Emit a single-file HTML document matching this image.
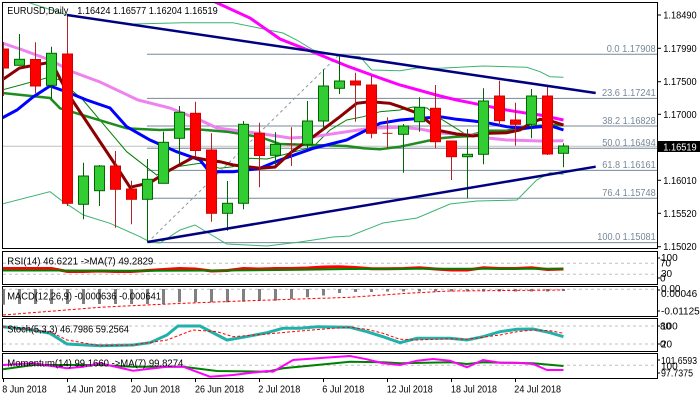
<!DOCTYPE html>
<html><head><meta charset="utf-8"><style>
html,body{margin:0;padding:0;background:#fff;}
svg{display:block;}
text{font-family:"Liberation Sans",Arial,sans-serif;font-size:10px;fill:#000;}
.fib{fill:#778899;}
</style></head><body>
<svg width="700" height="400" viewBox="0 0 700 400" xmlns="http://www.w3.org/2000/svg">
<defs>
<clipPath id="cm"><rect x="2.5" y="2.5" width="655" height="246"/></clipPath>
</defs>
<rect width="700" height="400" fill="#fff"/>

<g clip-path="url(#cm)">
<!-- bid line -->
<line x1="2" y1="146.3" x2="657" y2="146.3" stroke="#c0c0c0" stroke-width="1"/>
<!-- fib levels -->
<g stroke="#778899" stroke-width="1">
<line x1="147" y1="54.3" x2="657" y2="54.3"/>
<line x1="147" y1="98.4" x2="657" y2="98.4"/>
<line x1="147" y1="126" x2="657" y2="126"/>
<line x1="147" y1="148.3" x2="657" y2="148.3"/>
<line x1="147" y1="170.4" x2="657" y2="170.4"/>
<line x1="147" y1="198.2" x2="657" y2="198.2"/>
<line x1="147" y1="242.6" x2="657" y2="242.6"/>
</g>
<line x1="147.5" y1="242.6" x2="339.5" y2="54.3" stroke="#8899aa" stroke-width="1" stroke-dasharray="3,3"/>

<!-- bands -->
<g fill="none" stroke="#3cb371" stroke-width="1">
<polyline points="22,0 27,2 67,15 133,24 183,22.7 233,22.7 283,33 296.7,40 313.3,50 333.3,55 360,56.7 371.7,70 400,70.7 417,68 440,68.3 483.3,66 526.7,67.3 540,71.7 550,76.7 563.5,77.3"/>
<polyline points="2,204 50,191.7 60,199.3 83.3,215 110,223.3 140,236.7 150,242 160,243 180,230 195,225 226.7,244 267,246 300,242 333,237 350,236 383,223 417,218 450,204 477,201 517,200 536.7,180 550,172.7 563.5,174.3"/>
</g>
<polyline fill="none" stroke="#008000" stroke-width="1" points="2,90 50,77 60,80 83,100 126.7,151.7 156.7,175 176.7,166.7 200,163.3 220,168.3 233.3,166.7 250,158.3 267,159 290,153 313.3,146.7 330,130 346.7,120 363.3,116.7 380,111.7 400,110 413,107 427,108 440,118.3 466.7,135 490,130 506.7,130 523.3,126.7 540,125 563.5,124.3"/>
<!-- MAs -->
<polyline fill="none" stroke="#ee82ee" stroke-width="3" points="2,43 20,49 50,60 73,72 100,82 138,100 170,108 200,120 217,128 260,133.5 290,138 313,136.7 347,131.7 370,128.3 400,127.3 420,129 440,133 473,135 490,138.3 506.7,140 540,141 563.5,140.7"/>
<polyline fill="none" stroke="#ff00ff" stroke-width="3" points="205,-3 213,1 250,18 280,39 313,52 347,66 380,78 400,85 440,96 456.7,100 473.3,103.3 490,106.7 506.7,110 523.3,112.7 540,115 563.5,120"/>
<polyline fill="none" stroke="#1e8c1e" stroke-width="2.5" points="2,93 50,98 60,108.3 93.3,118.3 126.7,128.3 160,130 193.3,129 226.7,131.7 260,137 280,144 313,145 346.7,146 363.3,148.3 380,149.3 400,146.7 440,138.3 456.7,136.7 473.3,136 490,131.7 506.7,130.7 523.3,129 540,126 563.5,125"/>
<polyline fill="none" stroke="#0000ff" stroke-width="3" points="2,118 17,110 33,97 50,86 67,92 86.7,100 110,108 126.7,126.7 150,140 176.7,151.7 200,160 206.7,168.3 216.7,171.7 233.3,171.7 260,168.3 280,160 313.3,148.3 346.7,140 380,123.3 400,120 440,116.7 456.7,119.3 473.3,121 490,123.3 506.7,126.7 523.3,128.3 540,126.7 553.3,126.7 563.5,130"/>
<polyline fill="none" stroke="#8b0000" stroke-width="3" points="2,80 19.5,68 35.5,65 51.5,62 67.5,93 83.5,117 99.5,141 115.5,165 130,187.3 150,182.7 170,170 193.3,157.3 206.7,160 220,161.7 233.3,165 260,168.3 275,167 291.5,152 313.3,136.7 340,116.7 356.7,103.3 370,101.7 390,103.3 400,106.7 417,113 440,130.7 456.7,134 473.3,136 490,133.3 506.7,132.7 520,130 530,123.3 540,119.3 553.3,121.7 563.5,125"/>

<!-- candles -->
<g stroke="#006400" stroke-width="1">
<line x1="19.5" y1="34" x2="19.5" y2="65.3"/>
<line x1="51.5" y1="46.7" x2="51.5" y2="98.7"/>
<line x1="83.5" y1="162.7" x2="83.5" y2="219.3"/>
<line x1="99.5" y1="165" x2="99.5" y2="206"/>
<line x1="147.5" y1="159" x2="147.5" y2="242"/>
<line x1="163.5" y1="131.7" x2="163.5" y2="183.3"/>
<line x1="179.5" y1="106" x2="179.5" y2="163.3"/>
<line x1="227.5" y1="181" x2="227.5" y2="230.7"/>
<line x1="243.5" y1="121" x2="243.5" y2="209.3"/>
<line x1="275.5" y1="132.3" x2="275.5" y2="165"/>
<line x1="307.5" y1="101" x2="307.5" y2="148.3"/>
<line x1="323.5" y1="69.3" x2="323.5" y2="130"/>
<line x1="339.5" y1="54.5" x2="339.5" y2="94"/>
<line x1="403.5" y1="124" x2="403.5" y2="172.7"/>
<line x1="419.5" y1="97.3" x2="419.5" y2="131.7"/>
<line x1="467.5" y1="129" x2="467.5" y2="198.3"/>
<line x1="483.5" y1="88.3" x2="483.5" y2="164.3"/>
<line x1="531.5" y1="89" x2="531.5" y2="138.3"/>
<line x1="563.5" y1="143.3" x2="563.5" y2="167.3"/>
</g>
<g fill="#32cd32" stroke="#006400" stroke-width="1">
<rect x="14.5" y="59.3" width="10" height="6"/>
<rect x="46.5" y="53.3" width="10" height="32"/>
<rect x="78.5" y="176" width="10" height="28.3"/>
<rect x="94.5" y="166" width="10" height="24.7"/>
<rect x="142.5" y="179.3" width="10" height="20"/>
<rect x="158.5" y="142.3" width="10" height="41"/>
<rect x="174.5" y="112.3" width="10" height="26"/>
<rect x="222.5" y="203.3" width="10" height="10"/>
<rect x="238.5" y="124.3" width="10" height="79"/>
<rect x="270.5" y="144.3" width="10" height="11"/>
<rect x="302.5" y="121" width="10" height="23.3"/>
<rect x="318.5" y="86" width="10" height="35"/>
<rect x="334.5" y="81" width="10" height="7.3"/>
<rect x="398.5" y="126" width="10" height="8.3"/>
<rect x="414.5" y="107.3" width="10" height="14.4"/>
<rect x="462.5" y="154.3" width="10" height="2.4"/>
<rect x="478.5" y="101" width="10" height="53.3"/>
<rect x="526.5" y="96" width="10" height="28.3"/>
<rect x="558.5" y="146" width="10" height="7.3"/>
</g>
<g stroke="#b22222" stroke-width="1">
<line x1="3.5" y1="42" x2="3.5" y2="96"/>
<line x1="35.5" y1="42.3" x2="35.5" y2="93.3"/>
<line x1="67.5" y1="15" x2="67.5" y2="206"/>
<line x1="115.5" y1="151" x2="115.5" y2="227.7"/>
<line x1="131.5" y1="180.7" x2="131.5" y2="224.3"/>
<line x1="195.5" y1="101.7" x2="195.5" y2="156.7"/>
<line x1="211.5" y1="133.3" x2="211.5" y2="221.7"/>
<line x1="259.5" y1="122.7" x2="259.5" y2="187.3"/>
<line x1="291.5" y1="127.3" x2="291.5" y2="166"/>
<line x1="286.5" y1="144.3" x2="296.5" y2="144.3"/>
<line x1="355.5" y1="72.7" x2="355.5" y2="121.7"/>
<line x1="371.5" y1="76" x2="371.5" y2="138.3"/>
<line x1="387.5" y1="117.3" x2="387.5" y2="148.3"/>
<line x1="382.5" y1="133.3" x2="392.5" y2="133.3"/>
<line x1="435.5" y1="85" x2="435.5" y2="148.3"/>
<line x1="451.5" y1="141" x2="451.5" y2="180"/>
<line x1="499.5" y1="80.7" x2="499.5" y2="125.7"/>
<line x1="515.5" y1="102.7" x2="515.5" y2="145.7"/>
<line x1="547.5" y1="85" x2="547.5" y2="155"/>
</g>
<g fill="#ff0000" stroke="#d40000" stroke-width="1">
<rect x="-1.5" y="49" width="10" height="19"/>
<rect x="30.5" y="59.5" width="10" height="26.5"/>
<rect x="62.5" y="54" width="10" height="149.3"/>
<rect x="110.5" y="166" width="10" height="23.3"/>
<rect x="126.5" y="189" width="10" height="10.3"/>
<rect x="190.5" y="113.3" width="10" height="37.2"/>
<rect x="206.5" y="150" width="10" height="63.3"/>
<rect x="254.5" y="133.3" width="10" height="22.2"/>
<rect x="350.5" y="81" width="10" height="4"/>
<rect x="366.5" y="85" width="10" height="48.3"/>
<rect x="430.5" y="108.3" width="10" height="33.4"/>
<rect x="446.5" y="141" width="10" height="15.7"/>
<rect x="494.5" y="96" width="10" height="24.7"/>
<rect x="510.5" y="120" width="10" height="4.3"/>
<rect x="542.5" y="96" width="10" height="58"/>
</g>

<!-- trendlines -->
<line x1="67" y1="15" x2="595.7" y2="93" stroke="#000080" stroke-width="2.5"/>
<line x1="147.5" y1="242" x2="595.7" y2="166.7" stroke="#000080" stroke-width="2.5"/>
</g>

<!-- header -->
<text x="7.3" y="14" textLength="61" lengthAdjust="spacingAndGlyphs">EURUSD,Daily</text>
<text x="77.3" y="14" textLength="140.4" lengthAdjust="spacingAndGlyphs">1.16424 1.16577 1.16204 1.16519</text>

<!-- fib labels -->
<text class="fib" x="606.7" y="51.8" textLength="49" lengthAdjust="spacingAndGlyphs">0.0 1.17908</text>
<text class="fib" x="602" y="96.2" textLength="53.7" lengthAdjust="spacingAndGlyphs">23.6 1.17241</text>
<text class="fib" x="602.3" y="124.2" textLength="53.4" lengthAdjust="spacingAndGlyphs">38.2 1.16828</text>
<text class="fib" x="602.3" y="146.2" textLength="53.4" lengthAdjust="spacingAndGlyphs">50.0 1.16494</text>
<text class="fib" x="602.3" y="167.8" textLength="53.4" lengthAdjust="spacingAndGlyphs">61.8 1.16161</text>
<text class="fib" x="602.3" y="196.2" textLength="53.4" lengthAdjust="spacingAndGlyphs">76.4 1.15748</text>
<text class="fib" x="597.3" y="240.2" textLength="58.4" lengthAdjust="spacingAndGlyphs">100.0 1.15081</text>

<!-- panel frames -->
<g fill="none" stroke="#000" stroke-width="1">
<rect x="2.5" y="2.5" width="655" height="246"/>
<rect x="2.5" y="251.5" width="655" height="33"/>
<rect x="2.5" y="286.5" width="655" height="30"/>
<rect x="2.5" y="318.5" width="655" height="33"/>
<rect x="2.5" y="353.5" width="655" height="25"/>
</g>

<!-- price axis -->
<g stroke="#000" stroke-width="1">
<line x1="657" y1="15" x2="661" y2="15"/>
<line x1="657" y1="48.3" x2="661" y2="48.3"/>
<line x1="657" y1="81.7" x2="661" y2="81.7"/>
<line x1="657" y1="114.3" x2="661" y2="114.3"/>
<line x1="657" y1="180.3" x2="661" y2="180.3"/>
<line x1="657" y1="213.3" x2="661" y2="213.3"/>
<line x1="657" y1="246.7" x2="661" y2="246.7"/>
<line x1="657" y1="258" x2="660" y2="258"/>
<line x1="657" y1="278" x2="660" y2="278"/>
<line x1="657" y1="290" x2="660" y2="290"/>
<line x1="657" y1="311" x2="660" y2="311"/>
<line x1="657" y1="326" x2="660" y2="326"/>
<line x1="657" y1="344" x2="660" y2="344"/>
<line x1="657" y1="360" x2="660" y2="360"/>
<line x1="657" y1="373" x2="660" y2="373"/>
</g>
<text x="663.3" y="18.5" textLength="33.4" lengthAdjust="spacingAndGlyphs">1.18490</text>
<text x="663.3" y="51.8" textLength="33.4" lengthAdjust="spacingAndGlyphs">1.17990</text>
<text x="663.3" y="85.2" textLength="33.4" lengthAdjust="spacingAndGlyphs">1.17500</text>
<text x="663.3" y="117.8" textLength="33.4" lengthAdjust="spacingAndGlyphs">1.17000</text>
<text x="663.3" y="183.8" textLength="33.4" lengthAdjust="spacingAndGlyphs">1.16010</text>
<text x="663.3" y="216.8" textLength="33.4" lengthAdjust="spacingAndGlyphs">1.15520</text>
<text x="663.3" y="250.2" textLength="33.4" lengthAdjust="spacingAndGlyphs">1.15020</text>
<rect x="658" y="141" width="42" height="11" fill="#000"/>
<text x="663.3" y="150.3" textLength="33.4" lengthAdjust="spacingAndGlyphs" style="fill:#fff">1.16519</text>

<!-- RSI panel -->
<g stroke="#c0c0c0" stroke-width="1" stroke-dasharray="3,3">
<line x1="3" y1="263.3" x2="657" y2="263.3"/>
<line x1="3" y1="274.3" x2="657" y2="274.3"/>
<line x1="3" y1="289.3" x2="657" y2="289.3"/>
<line x1="3" y1="326" x2="657" y2="326"/>
<line x1="3" y1="344" x2="657" y2="344"/>
<line x1="3" y1="365.3" x2="657" y2="365.3"/>
</g>
<polyline fill="none" stroke="#ff0000" stroke-width="3" points="3,268.5 19.5,268.5 35.5,268.5 51.5,268.5 67.5,271.5 83.5,271.5 99.5,271 115.5,271.5 131.5,271.5 147.5,270.5 163.5,269.5 179.5,268.5 195.5,269 211.5,271 227.5,270.5 243.5,268.5 259.5,269 275.5,268.5 291.5,268.5 307.5,268 323.5,267 339.5,266.8 355.5,267.5 371.5,268.7 387.5,268.7 403.5,268.5 419.5,267.7 435.5,269 451.5,270 467.5,270 483.5,267.8 499.5,268.5 515.5,268.5 531.5,267.8 547.5,269.5 563.5,269"/>
<polyline fill="none" stroke="#008000" stroke-width="2" points="3,270.5 60,270.5 150,270.8 220,270.5 300,269.8 350,269 420,268.8 563.5,268.8"/>
<text x="7.3" y="264.5" textLength="146" lengthAdjust="spacingAndGlyphs">RSI(14) 46.6221 -&gt;MA(7) 49.2829</text>
<text x="661" y="261">100</text>
<text x="660" y="266.3">70</text>
<text x="661" y="277">30</text>
<text x="660" y="281.5">0</text>

<!-- MACD panel -->
<g fill="#808080">
<rect x="2.5" y="289" width="2.5" height="15.7"/>
<rect x="18" y="289" width="3" height="15"/>
<rect x="34" y="289" width="3" height="15"/>
<rect x="50" y="289" width="3" height="15"/>
<rect x="66" y="289" width="3" height="15"/>
<rect x="82" y="289" width="3" height="15"/>
<rect x="98" y="289" width="3" height="15"/>
<rect x="114" y="289" width="3" height="15"/>
<rect x="130" y="289" width="3" height="15"/>
<rect x="146" y="289" width="3" height="15"/>
<rect x="162" y="289" width="3" height="15"/>
<rect x="178" y="289" width="3" height="13.3"/>
<rect x="194" y="289" width="3" height="13.3"/>
<rect x="210" y="289" width="3" height="13.3"/>
<rect x="226" y="289" width="3" height="13.3"/>
<rect x="242" y="289" width="3" height="12.7"/>
<rect x="258" y="289" width="3" height="11.7"/>
<rect x="274" y="289" width="3" height="11.7"/>
<rect x="290" y="289" width="3" height="10"/>
<rect x="306" y="289" width="3" height="8.3"/>
<rect x="322" y="289" width="3" height="6.5"/>
<rect x="338" y="289" width="3" height="4"/>
<rect x="354" y="289" width="3" height="3"/>
<rect x="370" y="289" width="3" height="3"/>
<rect x="386" y="289" width="3" height="2.5"/>
<rect x="402" y="289" width="3" height="2.5"/>
<rect x="418" y="289" width="3" height="2.5"/>
<rect x="434" y="289" width="3" height="2.5"/>
<rect x="450" y="289" width="3" height="2.5"/>
<rect x="466" y="289" width="3" height="2.5"/>
<rect x="482" y="289" width="3" height="2.5"/>
<rect x="498" y="289" width="3" height="2.5"/>
<rect x="514" y="289" width="3" height="2.5"/>
<rect x="530" y="289" width="3" height="2.5"/>
<rect x="546" y="289" width="3" height="2.5"/>
<rect x="562" y="289" width="3" height="2"/>
</g>
<polyline fill="none" stroke="#ff0000" stroke-width="1" stroke-dasharray="3,2" points="3,315 50,311.3 100,307.3 167,304 233,301.3 300,299 350,297.3 383,295 407,293.3 450,291 563.5,290"/>
<text x="7.3" y="299.5" textLength="153.7" lengthAdjust="spacingAndGlyphs">MACD(12,26,9) -0.000636 -0.000641</text>
<text x="661" y="292">0.00</text>
<text x="661" y="296.8">0.00046</text>
<text x="661" y="314.5">-0.011258</text>

<!-- Stoch panel -->
<polyline fill="none" stroke="#20b2aa" stroke-width="3" points="3,326.7 33,330 50,333.3 67,344 100,345.7 133,345 150,342.7 167,335 178,326 200,326 227,340 243,337.3 267,332.7 283,328.3 300,328.3 317,326.7 350,327.3 367,331.7 383,336.7 400,342.7 417,338.3 450,338.3 467,340 483,336.7 500,331.7 517,329.3 533,329 550,332.7 563.5,336.7"/>
<polyline fill="none" stroke="#ff0000" stroke-width="1" stroke-dasharray="3,2" points="3,326.7 50,331.7 67,340 100,345.7 133,345 167,340 193,330 217,331.7 233,336.7 267,334 300,331 333,328.3 350,327.3 367,329.3 383,333.3 400,339.3 417,340 450,338.7 467,339.3 500,335 517,331.7 533,330 550,330.7 563.5,333.3"/>
<text x="7.3" y="332.5" textLength="121.7" lengthAdjust="spacingAndGlyphs">Stoch(5,3,3) 46.7986 59.2564</text>
<text x="661" y="329.5">100</text>
<text x="660" y="329.5">80</text>
<text x="661" y="347.5">20</text>
<text x="660" y="347.5">0</text>

<!-- Momentum panel -->
<polyline fill="none" stroke="#008000" stroke-width="2" points="3,369.3 33,365 100,365 133,366.7 183,366.7 217,371 267,371.7 283,368.3 317,365 350,361.7 383,362.3 400,363.3 450,362.3 467,364 483,362.3 533,363.3 563.5,366"/>
<polyline fill="none" stroke="#ff00ff" stroke-width="2" points="3,365 33,363.3 67,368.3 83,366.7 100,363.3 133,370.7 167,366.7 183,366.7 210,376.7 233,375 267,371 273,371.7 293,360 317,358.3 350,356 367,359.3 383,363.3 400,365 417,360.7 433,359 450,360.7 467,367.3 483,360 500,362.7 517,362.7 533,364 547,370 563.5,370"/>
<text x="7.3" y="366.5" textLength="176" lengthAdjust="spacingAndGlyphs">Momentum(14) 99.1660 -&gt;MA(7) 99.8274</text>
<text x="661" y="364" textLength="36" lengthAdjust="spacingAndGlyphs">101.6593</text>
<text x="661" y="369.5">100</text>
<text x="661" y="376.5" textLength="32" lengthAdjust="spacingAndGlyphs">97.7375</text>

<!-- date axis -->
<g stroke="#000" stroke-width="1">
<line x1="3.5" y1="379" x2="3.5" y2="382"/>
<line x1="67.5" y1="379" x2="67.5" y2="382"/>
<line x1="131.5" y1="379" x2="131.5" y2="382"/>
<line x1="195.5" y1="379" x2="195.5" y2="382"/>
<line x1="259.5" y1="379" x2="259.5" y2="382"/>
<line x1="323.5" y1="379" x2="323.5" y2="382"/>
<line x1="387.5" y1="379" x2="387.5" y2="382"/>
<line x1="451.5" y1="379" x2="451.5" y2="382"/>
<line x1="515.5" y1="379" x2="515.5" y2="382"/>
</g>
<text x="2.3" y="392.5" textLength="44.4" lengthAdjust="spacingAndGlyphs">8 Jun 2018</text>
<text x="66.7" y="392.5" textLength="49.3" lengthAdjust="spacingAndGlyphs">14 Jun 2018</text>
<text x="131" y="392.5" textLength="49" lengthAdjust="spacingAndGlyphs">20 Jun 2018</text>
<text x="195" y="392.5" textLength="49" lengthAdjust="spacingAndGlyphs">26 Jun 2018</text>
<text x="258.3" y="392.5" textLength="42" lengthAdjust="spacingAndGlyphs">2 Jul 2018</text>
<text x="322.3" y="392.5" textLength="42" lengthAdjust="spacingAndGlyphs">6 Jul 2018</text>
<text x="386.7" y="392.5" textLength="46" lengthAdjust="spacingAndGlyphs">12 Jul 2018</text>
<text x="451" y="392.5" textLength="46" lengthAdjust="spacingAndGlyphs">18 Jul 2018</text>
<text x="514.3" y="392.5" textLength="46.7" lengthAdjust="spacingAndGlyphs">24 Jul 2018</text>
</svg>
</body></html>
